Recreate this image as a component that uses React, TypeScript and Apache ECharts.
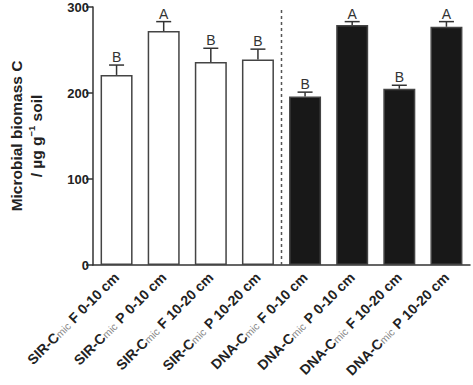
import React, { useEffect, useRef } from "react";
import * as echarts from "echarts";

const categories = [
  "SIR-Cmic F 0-10 cm",
  "SIR-Cmic P 0-10 cm",
  "SIR-Cmic F 10-20 cm",
  "SIR-Cmic P 10-20 cm",
  "DNA-Cmic F 0-10 cm",
  "DNA-Cmic P 0-10 cm",
  "DNA-Cmic F 10-20 cm",
  "DNA-Cmic P 10-20 cm",
];
const means = [221, 272, 236, 239, 196, 279, 205, 277];
const errors = [11.5, 11, 16, 12, 5, 4, 4, 6];
const letters = ["B", "A", "B", "B", "B", "A", "B", "A"];
const isDNA = [false, false, false, false, true, true, true, true];
const yTicks = [0, 100, 200, 300];

export default function App() {
  const ref = useRef<HTMLDivElement>(null);
  useEffect(() => {
    if (!ref.current) return;
    const chart = echarts.init(ref.current, null, { renderer: "svg" });
    const axisColor = "#333";
    chart.setOption({
      animation: false,
      grid: { left: 85, right: 3, top: 7, bottom: 120, containLabel: false },
      xAxis: {
        type: "category",
        data: categories,
        axisLine: { lineStyle: { color: axisColor, width: 1.5 } },
        axisTick: { length: 6, lineStyle: { color: axisColor, width: 1.5 } },
        axisLabel: {
          rotate: 45,
          margin: 10,
          interval: 0,
          formatter: (v: string) => {
            const i = v.indexOf("Cmic");
            return `{b|${v.slice(0, i + 1)}}{s|mic}{b| ${v.slice(i + 5)}}`;
          },
          rich: {
            b: { fontFamily: "Liberation Sans, Arial", fontWeight: "bold", fontSize: 14, color: "#222" },
            s: { fontFamily: "Liberation Sans, Arial", fontSize: 10.5, color: "#888", verticalAlign: "bottom" },
          },
        },
      },
      yAxis: {
        type: "value",
        min: 0,
        max: 300,
        interval: 100,
        splitLine: { show: false },
        axisLine: { show: true, lineStyle: { color: axisColor, width: 1.5 } },
        axisTick: { show: true, length: 7, lineStyle: { color: axisColor, width: 1.5 } },
        axisLabel: {
          margin: 4,
          fontFamily: "Liberation Sans, Arial",
          fontWeight: "bold",
          fontSize: 13,
          color: "#222",
          formatter: (v: number) => (yTicks.includes(v) ? String(v) : ""),
        },
        name: "{t|Microbial biomass C}\n{t|/ µg g}{sup|−1}{t| soil}",
        nameLocation: "middle",
        nameGap: 47,
        nameRotate: 90,
        nameTextStyle: {
          rich: {
            t: { fontFamily: "Liberation Sans, Arial", fontWeight: "bold", fontSize: 15.5, color: "#222", lineHeight: 20 },
            sup: { fontFamily: "Liberation Sans, Arial", fontWeight: "bold", fontSize: 9.5, color: "#222", verticalAlign: "top", lineHeight: 20 },
          },
        },
      },
      series: [
        {
          type: "bar",
          data: means.map((v, i) => ({
            value: v,
            itemStyle: {
              color: isDNA[i] ? "#181818" : "#ffffff",
              borderColor: "#444",
              borderWidth: 1.5,
            },
          })),
          barWidth: 32,
        },
        {
          type: "custom",
          data: means.map((v, i) => [i, v, v + errors[i]]),
          renderItem: (params: any, api: any) => {
            const idx = api.value(0);
            const base = api.coord([idx, api.value(1)]);
            const top = api.coord([idx, api.value(2)]);
            const capHalf = 7.5;
            const style = { stroke: "#333", lineWidth: 1.5 };
            const children: any[] = [
              { type: "line", shape: { x1: base[0], y1: base[1], x2: top[0], y2: top[1] }, style },
              { type: "line", shape: { x1: top[0] - capHalf, y1: top[1], x2: top[0] + capHalf, y2: top[1] }, style },
              {
                type: "text",
                style: {
                  text: letters[params.dataIndex],
                  x: top[0],
                  y: top[1] - 1,
                  align: "center",
                  verticalAlign: "bottom",
                  fontFamily: "Liberation Sans, Arial",
                  fontSize: 14,
                  fill: "#333",
                },
              },
            ];
            if (params.dataIndex === 3) {
              const step = api.size([1, 0])[0];
              const x = base[0] + step / 2;
              const y0 = api.coord([idx, 0])[1];
              const y1 = api.coord([idx, 300])[1];
              children.push({
                type: "line",
                shape: { x1: x, y1: y0, x2: x, y2: y1 },
                style: { stroke: "#555", lineWidth: 1.5, lineDash: [3, 3] },
              });
            }
            return { type: "group", children };
          },
          z: 5,
        },
      ],
    });
    return () => chart.dispose();
  }, []);
  return <div ref={ref} style={{ width: 473, height: 385, position: "absolute", left: 0, top: 0 }} />;
}
